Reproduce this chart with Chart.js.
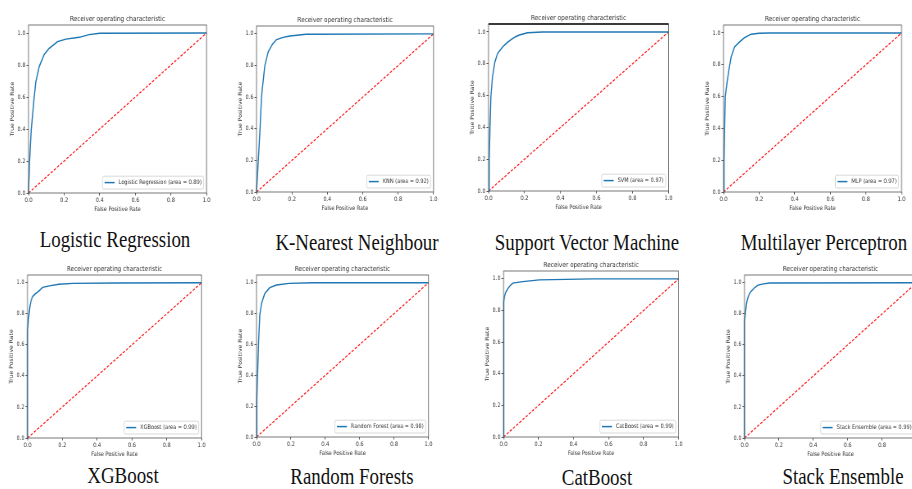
<!DOCTYPE html>
<html><head><meta charset="utf-8">
<script src="https://cdn.jsdelivr.net/npm/chart.js@4.4.1/dist/chart.umd.min.js"></script>
<style>
html,body{margin:0;padding:0;background:#fff;width:912px;height:489px;overflow:hidden;position:relative}
canvas{position:absolute;transform-origin:0 0}
.cap{position:absolute;font-family:'Liberation Serif','Times New Roman',serif;font-size:22.5px;line-height:22px;white-space:nowrap;color:#111}
</style></head><body>
<script>
// ---------- data ----------
const captions = ['Logistic Regression','K-Nearest Neighbour','Support Vector Machine','Multilayer Perceptron','XGBoost','Random Forests','CatBoost','Stack Ensemble'];
const legendNames = ['Logistic Regression','KNN','SVM','MLP','XGBoost','Random Forest','CatBoost','Stack Ensemble'];
const aucValues = ['0.89','0.92','0.97','0.97','0.99','0.98','0.99','0.99'];
const xTicks = [0, 0.2, 0.4, 0.6, 0.8, 1.0];
const yTicks = [0, 0.2, 0.4, 0.6, 0.8, 1.0];
const chanceLine = [0, 1];

const lrFpr  = [0, 0.006, 0.015, 0.03, 0.041, 0.06, 0.088, 0.116, 0.163, 0.21, 0.285, 0.34, 0.4, 1.0];
const lrTpr  = [0, 0.2, 0.39, 0.58, 0.695, 0.79, 0.866, 0.904, 0.946, 0.962, 0.973, 0.99, 0.998, 1.0];
const knnFpr = [0, 0.01, 0.02, 0.028, 0.038, 0.047, 0.066, 0.09, 0.113, 0.15, 0.188, 0.28, 1.0];
const knnTpr = [0, 0.2, 0.4, 0.603, 0.708, 0.80, 0.887, 0.935, 0.964, 0.978, 0.987, 0.998, 1.0];
const svmFpr = [0, 0.004, 0.008, 0.013, 0.022, 0.035, 0.05, 0.078, 0.1, 0.125, 0.15, 0.171, 0.217, 0.3, 1.0];
const svmTpr = [0, 0.2, 0.4, 0.593, 0.718, 0.81, 0.864, 0.906, 0.93, 0.952, 0.97, 0.981, 0.995, 1.0, 1.0];
const mlpFpr = [0, 0.003, 0.006, 0.01, 0.019, 0.03, 0.043, 0.062, 0.09, 0.118, 0.155, 0.2, 0.26, 1.0];
const mlpTpr = [0, 0.2, 0.4, 0.6, 0.683, 0.766, 0.85, 0.912, 0.944, 0.971, 0.992, 0.998, 1.0, 1.0];
const xgbFpr = [0, 0, 0.006, 0.013, 0.02, 0.029, 0.045, 0.058, 0.087, 0.125, 0.18, 0.26, 0.5, 1.0];
const xgbTpr = [0, 0.68, 0.77, 0.845, 0.885, 0.91, 0.93, 0.94, 0.97, 0.98, 0.99, 0.996, 0.998, 1.0];
const rfFpr  = [0, 0.002, 0.006, 0.012, 0.019, 0.029, 0.048, 0.077, 0.116, 0.19, 0.33, 1.0];
const rfTpr  = [0, 0.25, 0.4, 0.617, 0.79, 0.866, 0.93, 0.968, 0.985, 0.996, 1.0, 1.0];
const catFpr = [0, 0, 0.003, 0.006, 0.015, 0.025, 0.04, 0.053, 0.08, 0.11, 0.205, 0.51, 1.0];
const catTpr = [0, 0.8, 0.855, 0.89, 0.92, 0.94, 0.96, 0.973, 0.978, 0.983, 0.994, 1.0, 1.0];
const stkFpr = [0, 0, 0.006, 0.012, 0.019, 0.029, 0.039, 0.055, 0.078, 0.11, 0.145, 1.0];
const stkTpr = [0, 0.75, 0.816, 0.87, 0.903, 0.93, 0.946, 0.965, 0.985, 0.993, 0.998, 1.0];

const fprList = [lrFpr, knnFpr, svmFpr, mlpFpr, xgbFpr, rfFpr, catFpr, stkFpr];
const tprList = [lrTpr, knnTpr, svmTpr, mlpTpr, xgbTpr, rfTpr, catTpr, stkTpr];

// ---------- layout (screen px) ----------
const panels = [
  {L:29,  R:207, B:193, T:25,  darkTop:false},
  {L:257, R:434, B:192, T:26,  darkTop:false},
  {L:489, R:669, B:191, T:24,  darkTop:true},
  {L:724, R:902, B:192, T:25,  darkTop:false},
  {L:28,  R:202, B:438, T:275, darkTop:false},
  {L:257, R:429, B:437, T:275, darkTop:false},
  {L:504, R:679, B:437, T:271, darkTop:false},
  {L:745, R:917, B:438, T:275, darkTop:false}
];
const captionPos = [[115,248],[356.5,251],[586.5,251],[823.5,251],[123,484],[351.5,485],[597,486],[842.5,485]];

const S = 0.82, LEFT_I = 36, TOP_M = 16, BOT_M = 24, FS = 6.1, TFS = 7.0;
Chart.defaults.font.family = "'DejaVu Sans', sans-serif";
Chart.defaults.color = '#333';

function makeFramePlugin(p) {
  return {
    id: 'frame',
    afterDraw(chart) {
      const {ctx, chartArea: a} = chart;
      ctx.save();
      // legend
      const label = chart.data.datasets[0].label;
      ctx.font = FS + "px 'DejaVu Sans'";
      const tw = ctx.measureText(label).width;
      const pad = 0.4 * FS, hl = 2 * FS, htp = 0.8 * FS;
      const bw = pad + hl + htp + tw + pad, bh = FS * 1.3 + 2 * pad;
      const x0 = a.right - 3.5 - bw, y0 = a.bottom - 4 - bh;
      ctx.beginPath();
      ctx.roundRect(x0, y0, bw, bh, 1.5);
      ctx.fillStyle = 'rgba(255,255,255,0.85)';
      ctx.fill();
      ctx.strokeStyle = '#cfcfcf';
      ctx.lineWidth = 0.8;
      ctx.stroke();
      const cy = y0 + bh / 2;
      ctx.beginPath();
      ctx.moveTo(x0 + pad, cy); ctx.lineTo(x0 + pad + hl, cy);
      ctx.strokeStyle = '#1f77b4'; ctx.lineWidth = 1.5; ctx.stroke();
      ctx.fillStyle = '#333'; ctx.textBaseline = 'middle'; ctx.textAlign = 'left';
      ctx.fillText(label, x0 + pad + hl + htp, cy);
      // frame
      ctx.strokeStyle = '#555'; ctx.lineWidth = 0.8;
      ctx.strokeRect(a.left, a.top, a.right - a.left, a.bottom - a.top);
      if (p.darkTop) {
        ctx.beginPath();
        ctx.moveTo(a.left, a.top); ctx.lineTo(a.right, a.top);
        ctx.strokeStyle = '#111'; ctx.lineWidth = 1.3; ctx.stroke();
      }
      ctx.restore();
    }
  };
}

panels.forEach((p, i) => {
  const plotWi = (p.R - p.L) / S;
  const wi = Math.ceil(plotWi + LEFT_I + 8);
  const rightI = wi - LEFT_I - plotWi;
  const h = (p.B - p.T) + TOP_M + BOT_M;
  const cv = document.createElement('canvas');
  cv.width = wi; cv.height = h;
  cv.style.width = wi + 'px'; cv.style.height = h + 'px';
  cv.style.left = (p.L - LEFT_I * S) + 'px';
  cv.style.top = (p.T - TOP_M) + 'px';
  cv.style.transform = 'scaleX(' + S + ')';
  document.body.appendChild(cv);

  const tickOpts = {font: {size: FS}, color: '#333', padding: 1.2, maxRotation: 0, autoSkip: false,
                    callback: v => Number(v).toFixed(1)};
  const gridOpts = {drawOnChartArea: false, tickLength: 2.5, tickColor: '#333', tickWidth: 0.8};
  const tLH = TFS * 1.2, fLH = FS * 1.2;

  new Chart(cv, {
    type: 'scatter',
    data: {
      datasets: [
        {label: legendNames[i] + ' (area = ' + aucValues[i] + ')',
         data: fprList[i].map((x, k) => ({x: x, y: tprList[i][k]})),
         borderColor: '#1f77b4', backgroundColor: '#1f77b4', borderWidth: 1.4,
         showLine: true, pointRadius: 0, tension: 0, clip: 3},
        {label: 'chance',
         data: chanceLine.map(v => ({x: v, y: v})),
         borderColor: '#ff1a1a', backgroundColor: '#ff1a1a', borderWidth: 1.2, borderDash: [3, 1.8],
         showLine: true, pointRadius: 0, clip: 3}
      ]
    },
    options: {
      responsive: false, animation: false, devicePixelRatio: 1, events: [],
      layout: {padding: {left: 0, right: rightI, top: 0, bottom: 0}},
      plugins: {
        legend: {display: false}, tooltip: {enabled: false},
        title: {display: true, fullSize: false, text: 'Receiver operating characteristic', color: '#333',
                font: {size: TFS, weight: 'normal'},
                padding: {top: TOP_M - tLH - (6 - tLH / 2), bottom: 6 - tLH / 2}}
      },
      scales: {
        x: {type: 'linear', min: 0, max: 1,
            afterBuildTicks: s => { s.ticks = xTicks.map(v => ({value: v})); },
            afterFit: s => { s.height = BOT_M; },
            ticks: tickOpts, grid: gridOpts, border: {display: false},
            title: {display: true, text: 'False Positive Rate', color: '#333', font: {size: FS}, padding: {top: 0, bottom: 8 - fLH / 2}}},
        y: {type: 'linear', min: 0, max: 1.05,
            afterBuildTicks: s => { s.ticks = yTicks.map(v => ({value: v})); },
            afterFit: s => { s.width = LEFT_I; },
            ticks: tickOpts, grid: gridOpts, border: {display: false},
            title: {display: true, text: 'True Positive Rate', color: '#333', font: {size: FS}, padding: {top: 16.3 - fLH / 2, bottom: 0}}}
      }
    },
    plugins: [makeFramePlugin(p)]
  });

  const d = document.createElement('div');
  d.className = 'cap';
  d.textContent = captions[i];
  d.style.left = captionPos[i][0] + 'px';
  d.style.top = (captionPos[i][1] - 18.6) + 'px';
  d.style.transform = 'translateX(-50%) scaleX(0.84)';
  document.body.appendChild(d);
});
</script>
</body></html>
